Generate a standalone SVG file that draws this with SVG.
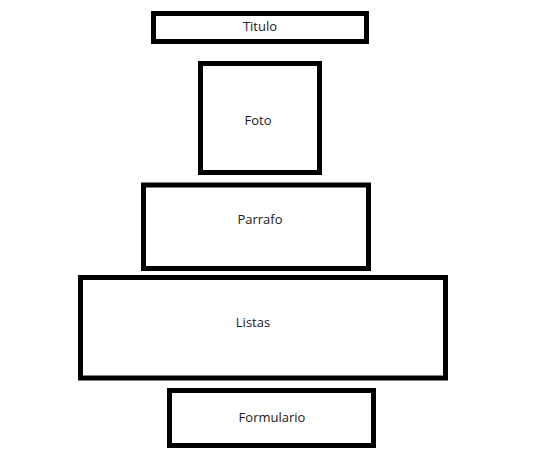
<svg xmlns="http://www.w3.org/2000/svg" width="539" height="460" viewBox="0 0 539 460">
<style>
.box{fill:#fff;stroke:#000;stroke-width:5}
.lbl{font-family:"Open Sans","Noto Sans","Liberation Sans",sans-serif;font-size:13px;fill:#1a1a1a;text-anchor:middle}
</style>
<rect width="539" height="460" fill="#fff"/>
<g id="connectors"></g>
<g id="titulo"><rect class="box" x="153.5" y="13.5" width="213" height="28"/><text class="lbl" x="260" y="31">Titulo</text></g>
<g id="foto"><rect class="box" x="200.5" y="63.5" width="119" height="109"/><text class="lbl" x="258" y="125">Foto</text></g>
<g id="parrafo"><rect class="box" x="143.5" y="185" width="225" height="83.5"/><text class="lbl" x="260" y="224">Parrafo</text></g>
<g id="listas"><rect class="box" x="80.5" y="277.5" width="365" height="100.5"/><text class="lbl" x="253" y="327">Listas</text></g>
<g id="formulario"><rect class="box" x="169.5" y="390.5" width="204" height="55"/><text class="lbl" x="272" y="422">Formulario</text></g>
</svg>
